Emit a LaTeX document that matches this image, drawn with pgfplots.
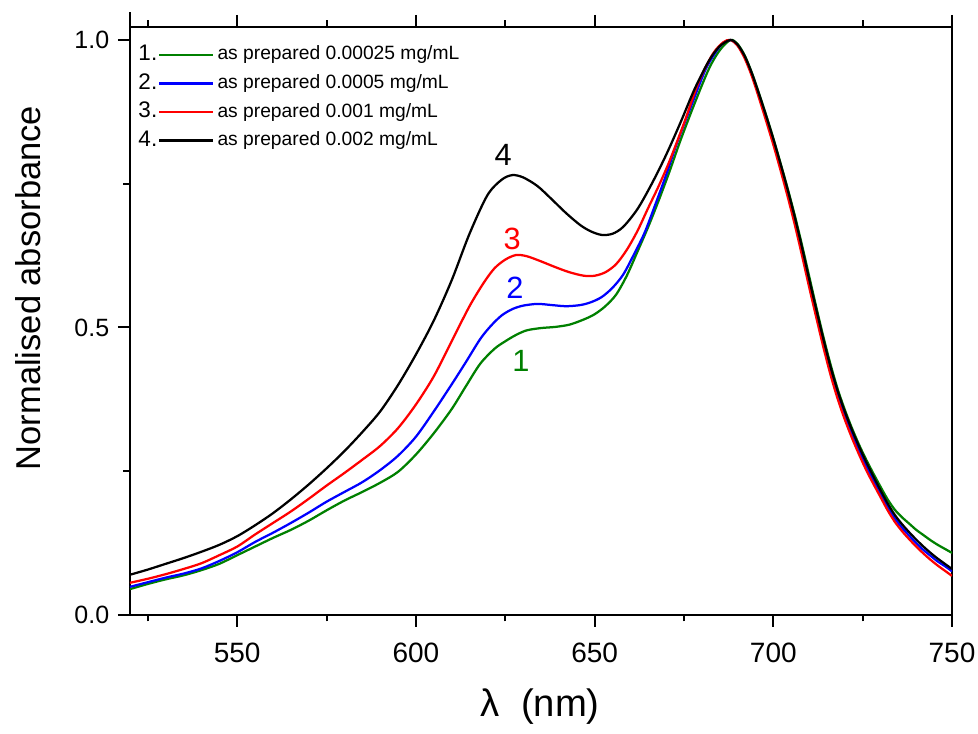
\documentclass[border=0pt]{standalone}
\usepackage{fontspec}
\setmainfont{Liberation Sans}
\usepackage{pgfplots}
\pgfplotsset{compat=1.18}
\usetikzlibrary{calc}

\definecolor{cgreen}{RGB}{0,128,0}
\definecolor{cblue}{RGB}{0,0,255}
\definecolor{cred}{RGB}{255,0,0}

% numbered legend entry: "n." in front of the line sample
\pgfplotsset{
  numleg/.style={legend image code/.code={%
    \node[anchor=east,inner sep=0.4pt,text=black,font=\fontsize{9}{10}\selectfont] at (0cm,0cm) {#1.};
    \draw[##1] (0cm,0cm) -- (21.6pt,0cm);}},
}

\begin{document}
\begin{tikzpicture}
\begin{axis}[
    scale only axis,
    width=328.8pt, height=235.2pt,
    xmin=520, xmax=750,
    ymin=0, ymax=1.0226,
    xtick={550,600,650,700,750},
    minor xtick={525,575,625,675,725},
    ytick={0,0.5,1},
    minor ytick={0.25,0.75},
    xtick pos=both, ytick pos=left,
    tick align=outside,
    major tick length=4.8pt, minor tick length=2.6pt,
    every tick/.style={black, line width=0.8pt},
    axis line style={line width=0.8pt},
    /pgf/number format/assume math mode=true,
    yticklabel style={/pgf/number format/fixed, /pgf/number format/fixed zerofill,
                      /pgf/number format/precision=1, font=\fontsize{10}{12}\selectfont},
    scaled y ticks=false,
    xticklabel style={font=\fontsize{11.2}{13}\selectfont, yshift=-2.8pt},
    xlabel={λ\ \ (nm)},
    ylabel={Normalised absorbance},
    xlabel style={font=\fontsize{15.3}{17}\selectfont, at={(axis description cs:0.499,-0.156)}, anchor=center},
    ylabel style={font=\fontsize{13.8}{16}\selectfont, at={(axis description cs:-0.124,0.556)}, anchor=center},
    legend cell align=left,
    legend style={draw=none, fill=none, at={(axis description cs:0,1)}, anchor=north west,
                  xshift=2.8pt, yshift=-6.2pt, inner sep=0pt,
                  font=\fontsize{7.7}{9}\selectfont, row sep=1.95pt,
                  nodes={inner sep=1.2pt}},
    every axis plot/.append style={line width=0.9pt},
]

\addplot[cgreen, smooth, numleg=1] table {
520 0.045
525 0.054
530 0.062
535 0.069
540 0.078
545 0.089
550 0.104
555 0.119
560 0.134
565 0.148
570 0.164
575 0.182
580 0.199
585 0.214
590 0.230
595 0.249
600 0.279
605 0.316
610 0.358
614 0.398
618 0.437
622 0.463
625 0.476
628 0.487
631 0.495
635 0.499
639 0.501
643 0.505
647 0.514
650 0.523
653 0.537
656 0.557
659 0.590
662 0.632
665 0.675
668 0.722
671 0.772
674 0.825
678 0.890
682 0.950
685 0.982
688 1.000
690 0.993
692 0.973
694 0.943
696 0.907
698 0.869
700 0.829
702 0.786
704 0.742
706 0.695
708 0.644
710 0.590
712 0.536
714 0.484
716 0.436
718 0.393
720 0.357
722 0.325
724 0.296
726 0.270
728 0.246
730 0.223
732 0.201
734 0.183
736 0.170
738 0.159
740 0.148
742 0.139
744 0.130
746 0.122
748 0.115
750 0.108
};
\addlegendentry{as prepared 0.00025 mg/mL}

\addplot[cblue, smooth, numleg=2] table {
520 0.049
525 0.057
530 0.065
535 0.072
540 0.081
545 0.094
550 0.109
555 0.127
560 0.143
565 0.160
570 0.178
575 0.197
580 0.214
585 0.231
590 0.252
595 0.277
600 0.310
605 0.354
610 0.401
614 0.440
618 0.480
621 0.503
624 0.521
627 0.532
630 0.538
634 0.541
638 0.539
642 0.537
646 0.539
649 0.544
652 0.553
655 0.569
658 0.592
661 0.627
664 0.665
667 0.714
670 0.765
673 0.820
677 0.885
681 0.948
684 0.980
686 0.995
688 1.000
690 0.991
692 0.970
694 0.940
696 0.903
698 0.864
700 0.823
702 0.780
704 0.734
706 0.686
708 0.633
710 0.578
712 0.525
714 0.473
716 0.425
718 0.383
720 0.347
722 0.315
724 0.286
726 0.259
728 0.234
730 0.211
732 0.188
734 0.168
736 0.152
738 0.138
740 0.125
742 0.113
744 0.103
746 0.093
748 0.085
750 0.076
};
\addlegendentry{as prepared 0.0005 mg/mL}

\addplot[cred, smooth, numleg=3] table {
520 0.056
525 0.063
530 0.071
535 0.080
540 0.090
545 0.104
550 0.119
555 0.140
560 0.160
565 0.180
570 0.202
575 0.225
580 0.247
585 0.270
590 0.294
595 0.325
600 0.366
605 0.415
610 0.476
615 0.537
619 0.578
622 0.603
625 0.618
628 0.626
631 0.624
635 0.615
639 0.605
643 0.596
647 0.590
650 0.590
653 0.596
656 0.610
659 0.635
662 0.668
665 0.708
668 0.747
671 0.790
675 0.855
679 0.925
683 0.975
686 0.996
688 1.000
690 0.990
692 0.968
694 0.937
696 0.899
698 0.859
700 0.818
702 0.774
704 0.728
706 0.679
708 0.626
710 0.571
712 0.518
714 0.466
716 0.418
718 0.376
720 0.340
722 0.308
724 0.279
726 0.252
728 0.228
730 0.205
732 0.182
734 0.162
736 0.146
738 0.132
740 0.119
742 0.107
744 0.096
746 0.086
748 0.077
750 0.068
};
\addlegendentry{as prepared 0.001 mg/mL}

\addplot[black, smooth, numleg=4] table {
520 0.070
525 0.079
530 0.089
535 0.099
540 0.110
545 0.122
550 0.137
555 0.156
560 0.177
565 0.201
570 0.227
575 0.255
580 0.285
585 0.318
590 0.354
595 0.400
600 0.453
605 0.512
610 0.582
615 0.663
620 0.730
624 0.757
627 0.765
630 0.761
634 0.746
638 0.723
642 0.699
646 0.678
649 0.667
652 0.661
655 0.663
658 0.675
662 0.706
666 0.750
670 0.800
674 0.856
678 0.915
682 0.964
685 0.989
688 1.000
690 0.992
692 0.972
694 0.942
696 0.906
698 0.868
700 0.828
702 0.785
704 0.740
706 0.692
708 0.640
710 0.585
712 0.532
714 0.480
716 0.432
718 0.390
720 0.354
722 0.322
724 0.293
726 0.266
728 0.241
730 0.217
732 0.194
734 0.174
736 0.158
738 0.144
740 0.131
742 0.119
744 0.108
746 0.098
748 0.089
750 0.080
};
\addlegendentry{as prepared 0.002 mg/mL}

\node[text=black,  font=\fontsize{12.3}{14}\selectfont] at (axis cs:624.4,0.800) {4};
\node[text=cred,   font=\fontsize{12.3}{14}\selectfont] at (axis cs:626.9,0.654) {3};
\node[text=cblue,  font=\fontsize{12.3}{14}\selectfont] at (axis cs:627.7,0.569) {2};
\node[text=cgreen, font=\fontsize{12.3}{14}\selectfont] at (axis cs:629.4,0.442) {1};

\coordinate (bl) at (rel axis cs:0,0);
\coordinate (tr) at (rel axis cs:1,1);
\coordinate (tl) at (rel axis cs:0,1);
\end{axis}
\draw[line width=0.8pt] (tl) -- ++(0,6pt);
\pgfresetboundingbox
\path ($(bl)+(-52pt,-47.6pt)$) rectangle ($(tr)+(10.4pt,10.8pt)$);
\end{tikzpicture}
\end{document}
